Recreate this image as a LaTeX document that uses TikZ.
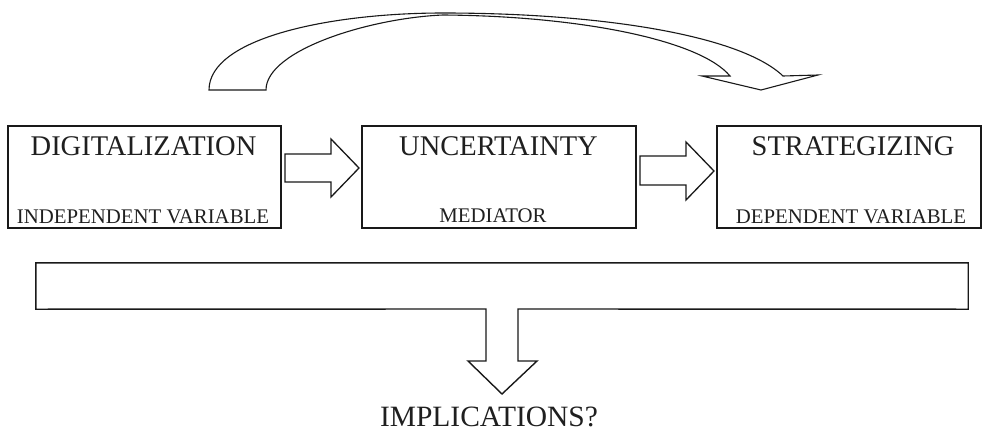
\documentclass[tikz,border=0pt]{standalone}
\usepackage{fontspec}
\setmainfont{Liberation Serif}
\begin{document}
\begin{tikzpicture}[x=1pt,y=-1pt,
  box/.style={draw=black!90, line width=1.4pt, minimum width=#1, minimum height=102pt, inner sep=0pt},
  title/.style={font=\fontsize{28.5}{30}\selectfont, inner sep=0pt, anchor=base, text=black!88},
  subtitle/.style={font=\fontsize{20.8}{22}\selectfont, inner sep=0pt, anchor=base, text=black!88},
  blockarrow/.style={draw=black!90, line width=1.3pt, fill=white, line join=miter},
  curvearrow/.style={draw=black!90, line width=1.1pt, fill=white, line join=miter}]
\useasboundingbox (0,0) rectangle (982,434);

% curved arrow on top
\draw[curvearrow] (209,90) .. controls (209,38) and (330,13) .. (443,13)
  .. controls (600,13) and (740,35) .. (783,76) -- (818,75) -- (761,90) -- (702,76) -- (730,76)
  .. controls (700,40) and (580,16) .. (443,15)
  .. controls (370,18) and (266,50) .. (266,90) -- cycle;

% boxes
\node[box=273pt] (dig) at (144.5,177) {};
\node[box=274pt] (unc) at (499,177) {};
\node[box=264pt] (str) at (849,177) {};

\node[title] (digt) at (143.5,155) {DIGITALIZATION};
\node[subtitle] (digs) at (143,223) {INDEPENDENT VARIABLE};
\node[title] (unct) at (498.5,155) {UNCERTAINTY};
\node[subtitle] (uncs) at (493,222) {MEDIATOR};
\node[title] (strt) at (853,155) {STRATEGIZING};
\node[subtitle] (strs) at (851,223) {DEPENDENT VARIABLE};

% block arrows between boxes
\draw[blockarrow] (285,154) -- (331,154) -- (331,139) -- (359,168) -- (331,197) -- (331,182) -- (285,182) -- cycle;
\draw[blockarrow] (640,156) -- (686,156) -- (686,142) -- (714,171) -- (686,200) -- (686,185) -- (640,185) -- cycle;

% bottom box merged with down arrow
\node[minimum width=932pt, minimum height=46pt, inner sep=0pt] (imp) at (502,286) {};
\draw[blockarrow, line width=1.4pt] (518,309) -- (imp.south east) -- (imp.north east) -- (imp.north west) -- (imp.south west)
  -- (486,309) -- (486,361) -- (468,361) -- (502,394) -- (537,361) -- (518,361) -- cycle;

\node[font=\fontsize{29.5}{31}\selectfont, inner sep=0pt, anchor=base, text=black!88] (impt) at (489,426) {IMPLICATIONS?};
\end{tikzpicture}
\end{document}
